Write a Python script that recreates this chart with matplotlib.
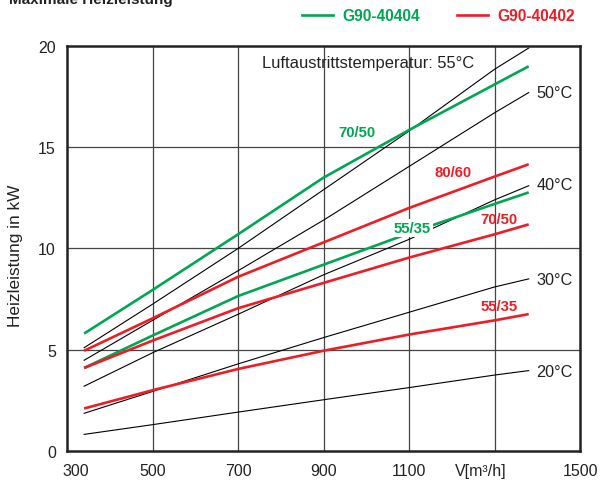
import matplotlib.pyplot as plt
from matplotlib.transforms import ScaledTranslation

plt.rcParams['font.family'] = ['Liberation Sans', 'DejaVu Sans']

# air flow V [m3/h] where the curves were read
V = [340, 500, 700, 900, 1100, 1300, 1380]

# air outlet temperature lines (kW)
t55 = [5.1, 7.25, 10.0, 12.9, 15.8, 18.85, 19.9]
t50 = [4.48, 6.45, 8.9, 11.4, 14.05, 16.7, 17.7]
t40 = [3.2, 4.85, 6.75, 8.7, 10.45, 12.4, 13.1]
t30 = [1.86, 2.94, 4.3, 5.6, 6.85, 8.1, 8.5]
t20 = [0.82, 1.3, 1.92, 2.53, 3.13, 3.75, 3.97]

# G90-40404 (green)
g_7050 = [5.8, 7.95, 10.7, 13.5, 15.85, 18.1, 19.0]
g_5535 = [4.1, 5.7, 7.65, 9.2, 10.75, 12.2, 12.77]

# G90-40402 (red)
r_8060 = [4.95, 6.55, 8.6, 10.3, 12.0, 13.55, 14.16]
r_7050 = [4.1, 5.45, 7.05, 8.3, 9.55, 10.7, 11.19]
r_5535 = [2.1, 3.0, 4.05, 4.95, 5.75, 6.45, 6.76]

xticks = [300, 500, 700, 900, 1100, 1300, 1500]
xticklabels = ['300', '500', '700', '900', '1100', 'V[m³/h]', '1500']
yticks = [0, 5, 10, 15, 20]

GREEN = '#00a651'
RED = '#ee1c25'
INK = '#222222'

fig = plt.figure(figsize=(6.0, 4.81), dpi=100)
ax = fig.add_axes([0.1117, 0.0603, 0.855, 0.842])

ax.set_xlim(300, 1500)
ax.set_ylim(0, 20)
ax.set_xticks(xticks)
ax.set_xticklabels(xticklabels)
ax.set_yticks(yticks)
ax.tick_params(length=0, labelsize=11.5, colors=INK, pad=8)
ax.tick_params(axis='x', pad=9)

# shift the first and the unit label a little
lbls = ax.get_xticklabels()
lbls[0].set_transform(lbls[0].get_transform() + ScaledTranslation(0.09, 0, fig.dpi_scale_trans))
lbls[5].set_transform(lbls[5].get_transform() + ScaledTranslation(-0.14, 0, fig.dpi_scale_trans))

for x in xticks[1:-1]:
    ax.axvline(x, color='#444444', lw=0.9, zorder=1)
for y in yticks[1:-1]:
    ax.axhline(y, color='#444444', lw=0.9, zorder=1)

for s in ax.spines.values():
    s.set_linewidth(1.8)
    s.set_color(INK)

for t in [t55, t50, t40, t30, t20]:
    ax.plot(V, t, color='black', lw=0.8, zorder=2)

for g in [g_7050, g_5535]:
    ax.plot(V, g, color=GREEN, lw=1.9, zorder=3, solid_capstyle='butt')
for r in [r_8060, r_7050, r_5535]:
    ax.plot(V, r, color=RED, lw=1.9, zorder=3, solid_capstyle='butt')

ax.text(755, 19.2, 'Luftaustrittstemperatur: 55°C', fontsize=11.9, color=INK, va='center')
for y, s in [(17.7, '50°C'), (13.15, '40°C'), (8.45, '30°C'), (3.95, '20°C')]:
    ax.text(1398, y, s, fontsize=11.7, color=INK, va='center')

box = dict(facecolor='white', edgecolor='none', pad=1.5)
ax.text(979, 15.75, '70/50', color=GREEN, fontsize=10.7, fontweight='bold', ha='center', va='center')
ax.text(1108, 11.0, '55/35', color=GREEN, fontsize=10.7, fontweight='bold', ha='center', va='center', bbox=box, zorder=4)
ax.text(1204, 13.76, '80/60', color=RED, fontsize=10.7, fontweight='bold', ha='center', va='center')
ax.text(1311, 11.45, '70/50', color=RED, fontsize=10.7, fontweight='bold', ha='center', va='center')
ax.text(1311, 7.18, '55/35', color=RED, fontsize=10.7, fontweight='bold', ha='center', va='center')

ax.set_ylabel('Heizleistung in kW', fontsize=12.4, color=INK)
ax.yaxis.set_label_coords(-0.086, 0.484)

h1, = ax.plot([], [], color=GREEN, lw=1.9)
h2, = ax.plot([], [], color=RED, lw=1.9)
leg = fig.legend([h1, h2], ['G90-40404', 'G90-40402'], loc='center right',
                 bbox_to_anchor=(583 / 600, 0.9647), ncol=2, frameon=False,
                 borderpad=0, handlelength=2.0, handletextpad=0.6, columnspacing=2.4,
                 prop={'weight': 'bold', 'size': 11.2})
leg.get_texts()[0].set_color(GREEN)
leg.get_texts()[1].set_color(RED)

# heading, cut off by the top edge
fig.text(173 / 600, 477 / 481, 'Maximale Heizleistung', fontsize=11, fontweight='bold',
         color=INK, ha='right', va='baseline')

fig.savefig('out.png', dpi=100)
